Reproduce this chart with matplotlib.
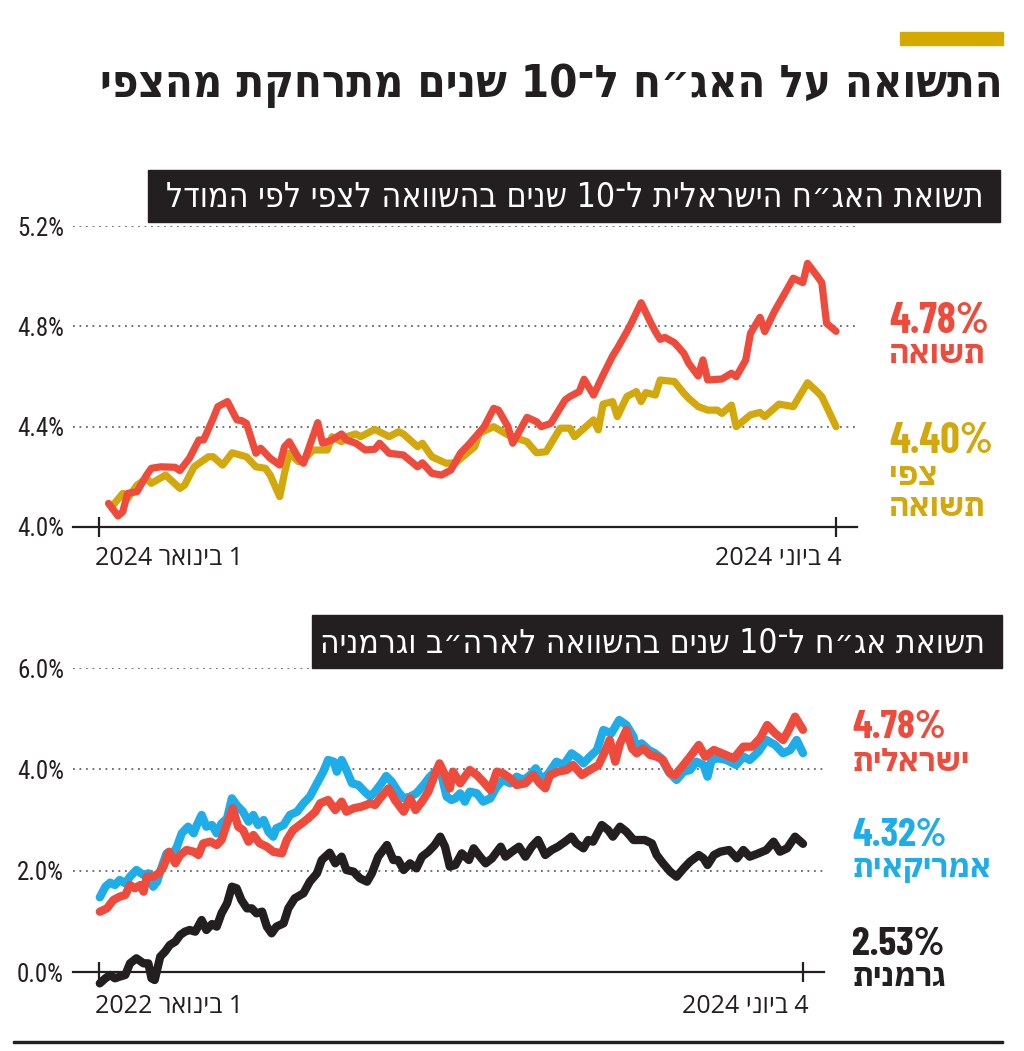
import re
import numpy as np
import pandas as pd
import matplotlib
matplotlib.use("Agg")
import matplotlib.pyplot as plt
from matplotlib.patches import Rectangle

# ---------------- data ----------------
# top chart: days since 2024-01-01
top_start = "2024-01-01"
top_end = "2024-06-04"
top_red_day = [2, 4, 5, 6, 8, 10, 11, 13, 16, 17, 19, 21, 22, 24, 25, 27, 29, 30, 31, 33, 34, 36, 38, 39, 40,
               42, 43, 46, 47, 49, 51, 52, 54, 56, 58, 59, 61, 64, 67, 68, 70, 72, 74, 76, 78, 81, 83, 84,
               86, 87, 90, 92, 93, 95, 98, 99, 101, 102, 104, 106, 108, 109, 111, 112, 114, 116, 117, 118,
               119, 121, 123, 124, 126, 127, 128, 131, 133, 134, 136, 137, 139, 140, 142, 145, 146, 148,
               149, 151, 152, 153, 155]
top_red = [4.094, 4.044, 4.061, 4.134, 4.141, 4.207, 4.234, 4.240, 4.238, 4.225, 4.274, 4.347, 4.347,
           4.433, 4.480, 4.500, 4.427, 4.424, 4.413, 4.294, 4.314, 4.274, 4.247, 4.320, 4.340, 4.274,
           4.254, 4.416, 4.334, 4.347, 4.371, 4.347, 4.334, 4.307, 4.310, 4.334, 4.294, 4.287, 4.240,
           4.256, 4.214, 4.207, 4.227, 4.294, 4.334, 4.400, 4.473, 4.466, 4.400, 4.334, 4.437, 4.420,
           4.400, 4.413, 4.506, 4.520, 4.540, 4.589, 4.526, 4.606, 4.682, 4.712, 4.779, 4.815, 4.894,
           4.815, 4.779, 4.748, 4.756, 4.735, 4.692, 4.653, 4.602, 4.666, 4.586, 4.590, 4.613, 4.599,
           4.666, 4.772, 4.836, 4.779, 4.858, 4.958, 4.992, 4.974, 5.051, 5.001, 4.974, 4.812, 4.78]
top_gold_day = [3, 5, 6, 8, 10, 11, 14, 17, 18, 20, 23, 24, 26, 28, 31, 33, 35, 36, 38, 39, 40, 42, 43,
                45, 48, 49, 51, 52, 54, 55, 58, 61, 63, 64, 67, 68, 70, 73, 75, 79, 80, 83, 86, 90, 92,
                94, 97, 99, 100, 104, 105, 106, 108, 109, 111, 113, 114, 115, 117, 118, 121, 123, 124,
                126, 128, 130, 131, 133, 134, 137, 139, 140, 143, 146, 149, 151, 152, 155]
top_gold = [4.088, 4.134, 4.114, 4.167, 4.194, 4.174, 4.207, 4.154, 4.167, 4.240, 4.280, 4.280, 4.247,
            4.296, 4.280, 4.240, 4.234, 4.207, 4.121, 4.214, 4.294, 4.260, 4.267, 4.307, 4.307, 4.360,
            4.340, 4.360, 4.371, 4.360, 4.389, 4.360, 4.380, 4.371, 4.320, 4.334, 4.280, 4.254, 4.256,
            4.320, 4.374, 4.400, 4.367, 4.340, 4.296, 4.300, 4.394, 4.394, 4.360, 4.427, 4.387, 4.490,
            4.500, 4.440, 4.520, 4.540, 4.500, 4.536, 4.526, 4.586, 4.580, 4.533, 4.513, 4.480, 4.466,
            4.466, 4.453, 4.486, 4.400, 4.447, 4.457, 4.440, 4.490, 4.480, 4.575, 4.540, 4.520, 4.40]

# bottom chart: days since 2022-01-01
bot_start = "2022-01-01"
bot_end = "2024-06-04"
us_day = [1, 8, 14, 20, 26, 33, 39, 47, 56, 62, 68, 73, 79, 85, 91, 98, 104, 112, 119, 123, 129, 135,
          142, 148, 154, 161, 167, 173, 181, 188, 194, 200, 207, 213, 219, 223, 232, 240, 249, 257, 265,
          274, 282, 288, 295, 299, 305, 311, 318, 326, 334, 341, 347, 355, 361, 368, 376, 383, 391, 399,
          408, 416, 425, 431, 437, 443, 448, 454, 460, 466, 475, 483, 492, 500, 508, 517, 525, 534, 542,
          549, 557, 565, 575, 584, 594, 603, 609, 617, 626, 634, 644, 654, 663, 672, 674, 682, 691, 699,
          707, 716, 726, 735, 743, 751, 760, 765, 770, 778, 789, 801, 810, 818, 829, 839, 850, 860, 869,
          877, 885]
us = [1.474, 1.684, 1.763, 1.717, 1.816, 1.750, 1.881, 2.013, 1.914, 1.947, 1.684, 1.783, 2.079, 2.342,
      2.276, 2.473, 2.737, 2.868, 2.737, 2.901, 3.099, 2.868, 2.901, 2.737, 2.934, 3.033, 3.428, 3.296,
      3.164, 2.967, 3.099, 2.901, 3.000, 2.769, 2.671, 2.836, 2.901, 3.099, 3.164, 3.329, 3.461, 3.724,
      3.954, 4.184, 4.151, 3.954, 4.184, 3.987, 3.724, 3.691, 3.559, 3.461, 3.559, 3.724, 3.868, 3.756,
      3.559, 3.428, 3.461, 3.527, 3.691, 3.855, 3.987, 3.855, 3.461, 3.395, 3.428, 3.527, 3.362, 3.559,
      3.527, 3.362, 3.428, 3.658, 3.790, 3.724, 3.855, 3.790, 3.888, 4.020, 3.790, 3.921, 4.151, 4.085,
      4.316, 4.217, 4.118, 4.250, 4.382, 4.776, 4.710, 4.974, 4.875, 4.644, 4.447, 4.513, 4.382, 4.316,
      4.217, 3.954, 3.790, 3.954, 3.987, 4.151, 4.085, 3.855, 4.184, 4.217, 4.184, 4.085, 4.250, 4.184,
      4.348, 4.579, 4.480, 4.316, 4.382, 4.579, 4.32]
il_day = [1, 10, 18, 26, 33, 39, 45, 52, 56, 60, 68, 75, 81, 88, 96, 102, 110, 119, 125, 131, 140, 148,
          154, 161, 168, 175, 181, 188, 194, 202, 211, 219, 230, 236, 244, 255, 263, 272, 278, 288, 297,
          305, 311, 320, 330, 341, 347, 355, 364, 372, 383, 391, 398, 406, 414, 422, 428, 435, 441, 445,
          454, 466, 475, 483, 492, 500, 508, 517, 525, 536, 546, 554, 561, 567, 577, 588, 596, 607, 617,
          628, 634, 642, 649, 655, 663, 670, 676, 684, 693, 701, 709, 718, 724, 733, 743, 754, 762, 773,
          783, 798, 810, 821, 831, 840, 850, 860, 867, 875, 885]
il = [1.190, 1.256, 1.421, 1.487, 1.520, 1.717, 1.652, 1.717, 1.585, 1.881, 1.881, 1.947, 2.079, 2.374,
      2.145, 2.309, 2.408, 2.374, 2.309, 2.539, 2.572, 2.506, 2.605, 2.934, 3.231, 2.868, 2.803, 2.572,
      2.704, 2.539, 2.473, 2.374, 2.342, 2.605, 2.803, 2.934, 3.033, 3.164, 3.329, 3.395, 3.197, 3.362,
      3.164, 3.231, 3.263, 3.329, 3.296, 3.461, 3.625, 3.395, 3.164, 3.428, 3.197, 3.362, 3.559, 3.888,
      4.118, 3.888, 3.625, 3.954, 3.724, 3.987, 3.888, 3.756, 3.592, 3.954, 3.921, 3.822, 3.691, 3.724,
      3.888, 3.724, 3.625, 3.888, 3.954, 3.987, 4.085, 3.888, 3.987, 4.085, 4.283, 4.579, 4.151, 4.513,
      4.776, 4.415, 4.316, 4.415, 4.283, 4.250, 4.184, 3.921, 3.888, 4.052, 4.250, 4.480, 4.250, 4.382,
      4.316, 4.217, 4.447, 4.447, 4.612, 4.875, 4.710, 4.579, 4.776, 5.039, 4.78]
de_day = [1, 8, 14, 20, 26, 33, 39, 47, 56, 62, 66, 70, 77, 83, 89, 96, 102, 108, 114, 121, 129, 135,
          142, 148, 154, 161, 167, 173, 179, 186, 192, 198, 205, 211, 217, 223, 232, 238, 246, 257, 265,
          274, 280, 290, 297, 305, 311, 320, 328, 337, 343, 351, 362, 370, 376, 383, 391, 399, 406, 414,
          422, 429, 435, 441, 448, 456, 465, 471, 479, 486, 494, 505, 511, 519, 528, 536, 544, 552, 561,
          569, 577, 586, 594, 600, 609, 615, 621, 632, 640, 646, 655, 663, 672, 678, 686, 695, 701, 709,
          718, 726, 735, 743, 754, 760, 765, 773, 781, 792, 802, 810, 818, 829, 839, 848, 856, 865, 875,
          885]
de = [-0.224, -0.125, -0.059, -0.125, -0.092, -0.059, 0.171, 0.270, 0.171, 0.171, -0.125, -0.158, 0.303,
      0.401, 0.533, 0.599, 0.730, 0.796, 0.829, 0.796, 1.026, 0.829, 0.947, 0.895, 1.158, 1.355, 1.684,
      1.652, 1.421, 1.256, 1.256, 1.158, 1.191, 0.895, 0.763, 0.895, 0.961, 1.256, 1.454, 1.553, 1.783,
      1.947, 2.210, 2.355, 2.145, 2.276, 2.013, 1.980, 1.849, 1.783, 1.947, 2.276, 2.506, 2.210, 2.210,
      2.013, 2.145, 2.046, 2.276, 2.374, 2.506, 2.671, 2.473, 2.079, 2.112, 2.342, 2.210, 2.441, 2.276,
      2.145, 2.243, 2.473, 2.276, 2.374, 2.473, 2.276, 2.473, 2.605, 2.309, 2.408, 2.473, 2.572, 2.671,
      2.539, 2.441, 2.605, 2.572, 2.901, 2.803, 2.671, 2.868, 2.769, 2.605, 2.605, 2.605, 2.539, 2.309,
      2.145, 1.980, 1.881, 2.046, 2.178, 2.309, 2.243, 2.112, 2.309, 2.374, 2.408, 2.243, 2.408, 2.276,
      2.342, 2.408, 2.572, 2.374, 2.441, 2.671, 2.53]

title = "התשואה על האג״ח ל־10 שנים מתרחקת מהצפי"
top_header = "תשואת האג״ח הישראלית ל־10 שנים בהשוואה לצפי לפי המודל"
bot_header = "תשואת אג״ח ל־10 שנים בהשוואה לארה״ב וגרמניה"
top_yticks = [4.0, 4.4, 4.8, 5.2]
bot_yticks = [0.0, 2.0, 4.0, 6.0]
top_xlabels = ["1 בינואר 2024", "4 ביוני 2024"]
bot_xlabels = ["1 בינואר 2022", "4 ביוני 2024"]
top_names = ["תשואה", "צפי", "תשואה"]
bot_names = ["ישראלית", "אמריקאית", "גרמנית"]

RED = "#EF4B3C"
GOLD = "#D3A80C"
BLUE = "#1EADE9"
BLACK = "#231F20"

COND = dict(family=["Roboto Condensed", "DejaVu Sans"], stretch="condensed")
XLAB = dict(family=["Open Sans", "DejaVu Sans"])
HEB_COND = dict(family=["DejaVu Sans"], stretch="condensed")
NUM_BOLD = dict(family=["Barlow Condensed", "DejaVu Sans"], fontweight="bold")
HEB_BOLD = dict(family=["IBM Plex Sans Hebrew", "DejaVu Sans"], fontweight="bold")


def vis(s):
    """Visual (left-to-right) order for an RTL string; LTR runs kept intact."""
    parts = re.findall(r"[0-9A-Za-z.,%]+|[^0-9A-Za-z.,%]+", s)
    out = []
    for p in reversed(parts):
        out.append(p if re.match(r"[0-9A-Za-z]", p) else p[::-1])
    return "".join(out)


W, H = 1024, 1051
fig = plt.figure(figsize=(W / 100, H / 100), dpi=100)


def fx(x):
    return x / W


def fy(y):
    return 1 - y / H


def setup(ax, xlim, ylim, yticks, grid_ys, xt, xlabels, lab_dy, tick_half):
    ax.set_xlim(xlim)
    ax.set_ylim(ylim)
    for s in ["top", "right", "left"]:
        ax.spines[s].set_visible(False)
    ax.spines["bottom"].set_color(BLACK)
    ax.spines["bottom"].set_linewidth(1.6)
    ax.set_yticks(yticks, [f"{v:.1f}%" for v in yticks])
    ax.tick_params(axis="y", length=0, pad=6.5, labelsize=18, labelcolor=BLACK)
    for lab in ax.get_yticklabels():
        lab.set_fontfamily(COND["family"])
        lab.set_fontstretch("condensed")
    for g in grid_ys:
        ax.axhline(g, color="#666666", lw=1.3, ls=(0, (1, 2.6)), zorder=0)
    ax.set_xticks(xt, ["", ""])
    ax.tick_params(axis="x", direction="inout", length=tick_half * 2 * 0.72, width=1.6, color=BLACK)
    ax.annotate(vis(xlabels[0]), xy=(xt[0], ylim[0]), xytext=(-4, -lab_dy), textcoords="offset pixels",
                ha="left", va="baseline", fontsize=18, color=BLACK, annotation_clip=False, **XLAB)
    ax.annotate(vis(xlabels[1]), xy=(xt[1], ylim[0]), xytext=(6, -lab_dy), textcoords="offset pixels",
                ha="right", va="baseline", fontsize=18, color=BLACK, annotation_clip=False, **XLAB)


# gold accent bar and title
fig.patches.append(Rectangle((fx(900), fy(45)), fx(103), 13 / H, transform=fig.transFigure,
                             color="#D4AA00", zorder=1))
fig.text(fx(1003), fy(97), vis(title), ha="right", va="baseline", fontsize=32.5, fontweight="bold",
         color=BLACK, **HEB_COND)

# ---------------- top chart ----------------
t0 = pd.Timestamp(top_start)
top_span = (pd.Timestamp(top_end) - t0).days
ax1 = fig.add_axes([fx(73), fy(527), fx(857 - 73), (527 - 226) / H])
setup(ax1, (-5.47, 159.4), (4.0, 5.2), top_yticks, top_yticks[1:], [0, top_span], top_xlabels, 38, 10)
ax1.plot(top_gold_day, top_gold, color=GOLD, lw=5.2, solid_joinstyle="round", solid_capstyle="round",
         clip_on=False, zorder=3)
ax1.plot(top_red_day, top_red, color=RED, lw=5.2, solid_joinstyle="round", solid_capstyle="round",
         clip_on=False, zorder=4)

fig.patches.append(Rectangle((fx(148), fy(222)), fx(852), 52 / H, transform=fig.transFigure,
                             color=BLACK, zorder=1))
fig.text(fx(984), fy(207), vis(top_header), ha="right", va="baseline", fontsize=24.3,
         color="white", zorder=2, **HEB_COND)

# right labels (top)
top_vals = [top_red[-1], top_gold[-1]]
fig.text(fx(889), fy(333), f"{top_vals[0]:.2f}%", ha="left", va="baseline", fontsize=31,
         color=RED, **NUM_BOLD)
fig.text(fx(889), fy(363), vis(top_names[0]), ha="left", va="baseline", fontsize=22.5,
         color=RED, **HEB_BOLD)
fig.text(fx(889), fy(453), f"{top_vals[1]:.2f}%", ha="left", va="baseline", fontsize=31,
         color=GOLD, **NUM_BOLD)
fig.text(fx(889), fy(485), vis(top_names[1]), ha="left", va="baseline", fontsize=22.5,
         color=GOLD, **HEB_BOLD)
fig.text(fx(889), fy(516), vis(top_names[2]), ha="left", va="baseline", fontsize=22.5,
         color=GOLD, **HEB_BOLD)

# ---------------- bottom chart ----------------
b0 = pd.Timestamp(bot_start)
bot_span = (pd.Timestamp(bot_end) - b0).days
ax2 = fig.add_axes([fx(73), fy(972), fx(824 - 73), (972 - 668) / H])
setup(ax2, (-32.7, 911.4), (0.0, 6.0), bot_yticks, bot_yticks[1:], [0, bot_span], bot_xlabels, 41, 10)
ax2.plot(us_day, us, color=BLUE, lw=6, solid_joinstyle="round", solid_capstyle="round",
         clip_on=False, zorder=3)
ax2.plot(de_day, de, color=BLACK, lw=6, solid_joinstyle="round", solid_capstyle="round",
         clip_on=False, zorder=3)
ax2.plot(il_day, il, color=RED, lw=6, solid_joinstyle="round", solid_capstyle="round",
         clip_on=False, zorder=4)

fig.patches.append(Rectangle((fx(312), fy(668)), fx(690), 53 / H, transform=fig.transFigure,
                             color=BLACK, zorder=1))
fig.text(fx(985), fy(653), vis(bot_header), ha="right", va="baseline", fontsize=24,
         color="white", zorder=2, **HEB_COND)

bot_colors = [RED, BLUE, BLACK]
bot_vals = [il[-1], us[-1], de[-1]]
bot_num_y = [738, 846, 955]
bot_name_y = [771, 877, 986]
for name, val, col, ny, wy in zip(bot_names, bot_vals, bot_colors, bot_num_y, bot_name_y):
    fig.text(fx(852), fy(ny), f"{val:.2f}%", ha="left", va="baseline", fontsize=29, color=col, **NUM_BOLD)
    fig.text(fx(852), fy(wy), vis(name), ha="left", va="baseline", fontsize=22.5, color=col, **HEB_BOLD)

# bottom rule
fig.patches.append(Rectangle((fx(13), fy(1043)), fx(990), 2.5 / H, transform=fig.transFigure,
                             color=BLACK, zorder=1))

fig.savefig("out.png", dpi=100, facecolor="white")
